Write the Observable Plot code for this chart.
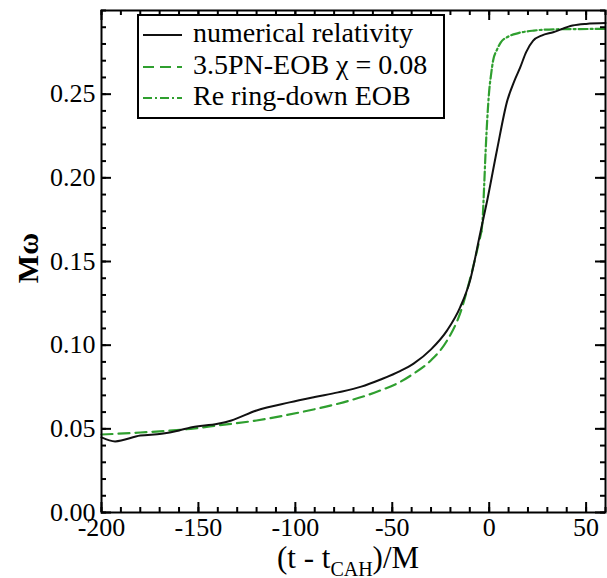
<!DOCTYPE html>
<html><head><meta charset="utf-8">
<script src="https://cdn.jsdelivr.net/npm/d3@7"></script>
<script src="https://cdn.jsdelivr.net/npm/@observablehq/plot@0.6"></script>
<style>
body{margin:0;background:#fff;overflow:hidden;}
#wrap{position:relative;width:607px;height:578px;overflow:hidden;}
</style></head><body><div id="wrap"></div>
<script>
// numerical relativity (black solid)
const nrT = [-200, -193, -180, -169, -160, -154, -140, -133, -120, -103, -90, -78, -66, -56, -46, -39, -30, -21.6, -15, -9.8, -4.6, -1, 4, 9.3, 13, 16, 19, 22.7, 27, 33, 43, 50, 60];
const nrW = [0.0449, 0.0425, 0.0460, 0.0470, 0.0490, 0.0508, 0.0530, 0.0550, 0.0610, 0.0658, 0.0690, 0.0718, 0.0752, 0.0795, 0.0845, 0.0890, 0.0975, 0.1090, 0.1226, 0.1390, 0.1670, 0.1866, 0.2165, 0.2460, 0.2580, 0.2660, 0.2750, 0.2820, 0.2850, 0.2870, 0.2910, 0.2920, 0.2925];
// 3.5PN-EOB chi = 0.08 (green dashed)
const eobT = [-200, -180, -154, -140, -120, -97, -78, -71.6, -56, -46, -39, -30, -21.6, -15, -10, -4];
const eobW = [0.0466, 0.0478, 0.0500, 0.0520, 0.0550, 0.0600, 0.0650, 0.0670, 0.0730, 0.0780, 0.0830, 0.0910, 0.1030, 0.1190, 0.1390, 0.1680];
// Re ring-down EOB (green dash-dot)
const rdT = [-4, -3.4, -2.6, -1.8, -1.0, 0, 1, 2, 4, 6, 10, 15, 23, 35, 60];
const rdW = [0.1680, 0.1750, 0.1950, 0.2170, 0.2350, 0.2520, 0.2620, 0.2700, 0.2765, 0.2810, 0.2845, 0.2865, 0.2880, 0.2888, 0.2890];

const xMajor = [-200, -150, -100, -50, 0, 50];
const xMinor = d3.range(-200, 61, 10);
const yMajor = [0, 0.05, 0.10, 0.15, 0.20, 0.25];
const yMinor = d3.range(0, 0.3001, 0.01);
const legendLabels = ["numerical relativity", "3.5PN-EOB \u03c7 = 0.08", "Re ring-down EOB"];

const green = "#2f9f2f";
const nr = nrT.map((t, i) => ({t, w: nrW[i]}));
const eob = eobT.map((t, i) => ({t, w: eobW[i]}));
const rd = rdT.map((t, i) => ({t, w: rdW[i]}));

const font = "Liberation Serif";
const W = 607, H = 578, mL = 101, mR = 2, mT = 10, mB = 66;
const fw = W - mL - mR, fh = H - mT - mB;
const tk = {stroke: "#000", strokeWidth: 2};

const plot = Plot.plot({
  width: W, height: H,
  marginLeft: mL, marginRight: mR, marginTop: mT, marginBottom: mB,
  style: {fontFamily: font, background: "#fff", color: "#000"},
  x: {domain: [-200, 60]},
  y: {domain: [0, 0.3]},
  marks: [
    Plot.line(eob, {x: "t", y: "w", stroke: green, strokeWidth: 2.2, strokeDasharray: "11,6", curve: "monotone-x"}),
    Plot.line(rd, {x: "t", y: "w", stroke: green, strokeWidth: 2.2, strokeDasharray: "9,3,2,3", curve: "monotone-x"}),
    Plot.line(nr, {x: "t", y: "w", stroke: "#111", strokeWidth: 2, curve: "monotone-x"}),
    // inward ticks on all four sides
    Plot.tickX(xMinor, {x: d => d, insetTop: fh - 5, ...tk}),
    Plot.tickX(xMajor, {x: d => d, insetTop: fh - 10, ...tk}),
    Plot.tickX(xMinor, {x: d => d, insetBottom: fh - 5, ...tk}),
    Plot.tickX(xMajor, {x: d => d, insetBottom: fh - 10, ...tk}),
    Plot.tickY(yMinor, {y: d => d, insetRight: fw - 5, ...tk}),
    Plot.tickY(yMajor, {y: d => d, insetRight: fw - 10, ...tk}),
    Plot.tickY(yMinor, {y: d => d, insetLeft: fw - 5, ...tk}),
    Plot.tickY(yMajor, {y: d => d, insetLeft: fw - 10, ...tk}),
    Plot.axisX({ticks: xMajor, anchor: "bottom", tickSize: 0, tickPadding: 5, tickFormat: d => String(d), label: null, fontSize: 26}),
    Plot.axisY({ticks: yMajor, anchor: "left", tickSize: 0, tickPadding: 6, tickFormat: d => d.toFixed(2), label: null, fontSize: 26}),
    Plot.frame({stroke: "#000", strokeWidth: 2})
  ]
});

document.getElementById("wrap").appendChild(plot);
const svg = d3.select(plot);

// axis titles
svg.append("text")
  .attr("transform", "translate(38,258) rotate(-90)")
  .attr("text-anchor", "middle")
  .attr("font-family", font).attr("font-size", 30).attr("font-weight", "bold")
  .text("M\u03c9");

const xl = svg.append("text")
  .attr("x", 277).attr("y", 568).attr("text-anchor", "start")
  .attr("font-family", font).attr("font-size", 31);
xl.append("tspan").text("(t - t");
xl.append("tspan").attr("font-size", 20).attr("dy", 8).text("CAH");
xl.append("tspan").attr("dy", -8).text(")/M");

// legend
const lg = svg.append("g");
lg.append("rect").attr("x", 138).attr("y", 15).attr("width", 306).attr("height", 103)
  .attr("fill", "#fff").attr("stroke", "#000").attr("stroke-width", 2);
const styles = [
  {stroke: "#111", dash: null},
  {stroke: green, dash: "11,6"},
  {stroke: green, dash: "9,3,2,3"}
];
const rowY = [35, 67, 98];
legendLabels.forEach((lab, i) => {
  lg.append("line").attr("x1", 143).attr("x2", 182).attr("y1", rowY[i]).attr("y2", rowY[i])
    .attr("stroke", styles[i].stroke).attr("stroke-width", 2)
    .attr("stroke-dasharray", styles[i].dash);
  lg.append("text").attr("x", 193).attr("y", rowY[i] + 7).attr("text-anchor", "start")
    .attr("font-family", font).attr("font-size", 28).text(lab);
});
</script>
</body></html>
